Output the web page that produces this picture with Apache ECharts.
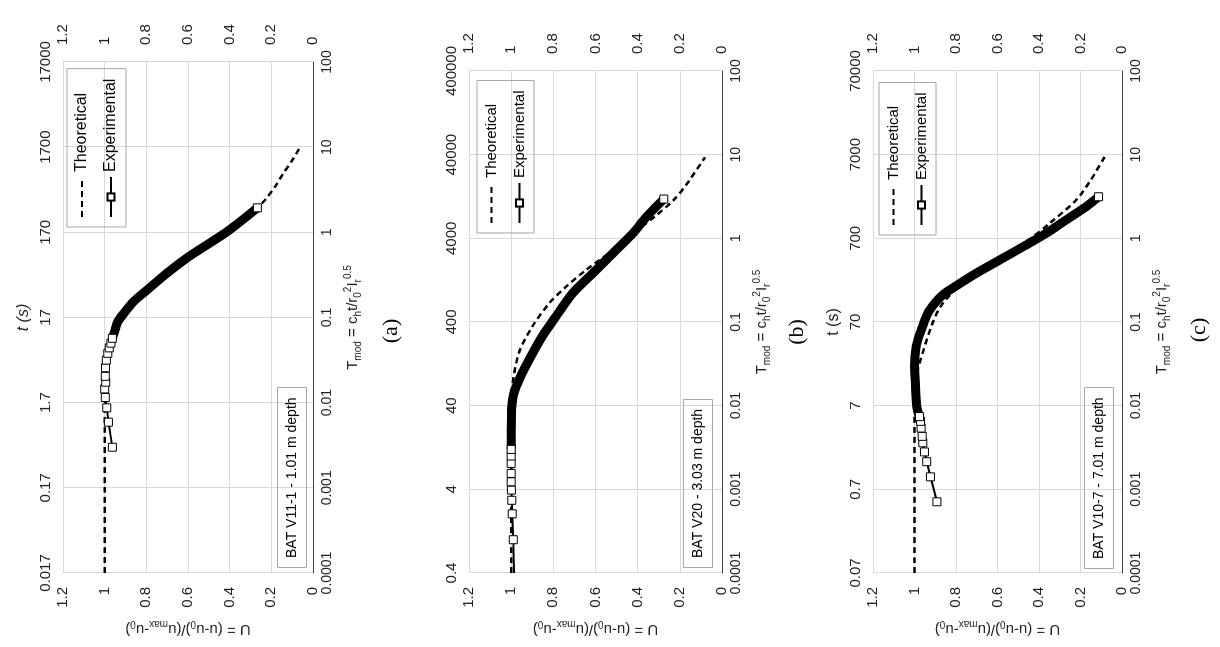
<!DOCTYPE html>
<html>
<head>
<meta charset="utf-8">
<script src="https://cdn.jsdelivr.net/npm/echarts@6/dist/echarts.min.js"></script>
<style>
    html, body {
        margin: 0;
        padding: 0;
        width: 1220px;
        height: 647px;
        overflow: hidden;
        background: #fff;
    }
    /* the figure is drawn in portrait and turned a quarter turn */
    #main {
        position: absolute;
        left: 0;
        top: 0;
        width: 647px;
        height: 1220px;
        transform-origin: 0 0;
        transform: translateY(647px) rotate(-90deg);
    }
</style>
</head>
<body>
<div id="main"></div>
<script>
    // tick labels
    var tmodLabels = ['0.0001', '0.001', '0.01', '0.1', '1', '10', '100'];
    var tLabelsA = ['0.017', '0.17', '1.7', '17', '170', '1700', '17000'];
    var tLabelsB = ['0.4', '4', '40', '400', '4000', '40000', '400000'];
    var tLabelsC = ['0.07', '0.7', '7', '70', '700', '7000', '70000'];

    var depthA = 'BAT V11-1 - 1.01 m depth';
    var depthB = 'BAT V20 - 3.03 m depth';
    var depthC = 'BAT V10-7 - 7.01 m depth';

    // [Tmod, U]
    var theoA = [[0.0001, 1.0], [0.001, 1.0], [0.005, 1.0], [0.01, 0.998], [0.025, 0.992], [0.05, 0.968],
        [0.085, 0.94], [0.112, 0.908], [0.212, 0.795], [0.333, 0.70], [0.50, 0.605], [0.716, 0.508],
        [1.02, 0.412], [1.35, 0.347], [1.95, 0.267], [2.4, 0.230], [3.5, 0.18], [4.9, 0.143],
        [7.0, 0.10], [10, 0.062]];
    var expLeadA = [];
    var expSparseA = [[0.0030, 0.963], [0.0059, 0.982], [0.0087, 0.990], [0.0115, 0.997], [0.0145, 1.0],
        [0.0174, 0.995], [0.0204, 0.997], [0.0257, 0.996], [0.0316, 0.992], [0.038, 0.985],
        [0.044, 0.978], [0.050, 0.970], [0.057, 0.963]];
    var expDenseA = [[0.065, 0.955], [0.086, 0.94], [0.112, 0.908], [0.155, 0.86], [0.212, 0.795],
        [0.333, 0.70], [0.50, 0.605], [0.716, 0.508], [1.02, 0.412], [1.35, 0.347], [1.94, 0.267]];

    var theoB = [[0.0001, 1.0], [0.001, 1.0], [0.01, 1.0], [0.017, 0.995], [0.043, 0.963], [0.088, 0.90],
        [0.167, 0.82], [0.264, 0.74], [0.418, 0.645], [1.0, 0.44], [1.38, 0.38], [1.81, 0.32],
        [2.86, 0.23], [4.54, 0.165], [9.3, 0.081]];
    var expLeadB = [[0.0001, 0.987]];
    var expSparseB = [[0.00025, 0.99], [0.00051, 0.995], [0.00074, 0.997], [0.00098, 0.999],
        [0.00123, 1.0], [0.00155, 1.0], [0.00204, 1.0], [0.0025, 1.0], [0.0030, 1.0]];
    var expDenseB = [[0.0051, 1.0], [0.0089, 0.998], [0.0141, 0.987], [0.0224, 0.955], [0.0385, 0.907],
        [0.0676, 0.852], [0.116, 0.788], [0.22, 0.709], [0.382, 0.613], [0.661, 0.518],
        [1.15, 0.422], [1.81, 0.358], [2.95, 0.276]];

    var theoC = [[0.0001, 1.0], [0.001, 1.0], [0.01, 1.0], [0.02, 0.995], [0.032, 0.976], [0.098, 0.912],
        [0.167, 0.864], [0.316, 0.751], [0.55, 0.606], [1.0, 0.44], [1.51, 0.349], [2.87, 0.221],
        [5.0, 0.15], [9.4, 0.084]];
    var expLeadC = [];
    var expSparseC = [[0.00071, 0.892], [0.00141, 0.923], [0.00214, 0.941], [0.0028, 0.952],
        [0.0036, 0.960], [0.0043, 0.963], [0.0054, 0.968], [0.0065, 0.971], [0.0074, 0.976]];
    var expDenseC = [[0.0098, 0.989], [0.017, 0.995], [0.0295, 1.0], [0.0507, 0.992], [0.080, 0.968],
        [0.127, 0.936], [0.170, 0.90], [0.215, 0.86], [0.27, 0.80], [0.382, 0.703], [0.55, 0.59],
        [0.832, 0.462], [1.15, 0.365], [1.66, 0.269], [2.39, 0.173], [3.14, 0.113]];

    // layout, in the unrotated frame (x along Tmod, y along U)
    var panels = [
        { tag: '(a)', tLabels: tLabelsA, tName: 't (s)', tItalic: true, depth: depthA,
          theo: theoA, lead: expLeadA, sparse: expSparseA, dense: expDenseA,
          grid: [74, 63, 511, 250], legend: [420, 67], legendFont: 16, box: [79, 277], tagPos: [316, 391] },
        { tag: '(b)', tLabels: tLabelsB, tName: '', tItalic: false, depth: depthB,
          theo: theoB, lead: expLeadB, sparse: expSparseB, dense: expDenseB,
          grid: [74, 469, 502, 253], legend: [414, 477], legendFont: 15, box: [79, 683], tagPos: [315, 797] },
        { tag: '(c)', tLabels: tLabelsC, tName: 't (s)', tItalic: false, depth: depthC,
          theo: theoC, lead: expLeadC, sparse: expSparseC, dense: expDenseC,
          grid: [74, 873, 502, 249], legend: [412, 879], legendFont: 15, box: [78, 1084], tagPos: [317, 1199] }
    ];

    var font = '"Liberation Sans", Arial, sans-serif';
    var gridColor = '#d9d9d9';
    var richSub = {
        s: { fontSize: 10, lineHeight: 10, verticalAlign: 'bottom' },
        p: { fontSize: 10, lineHeight: 10, verticalAlign: 'top' }
    };

    function logIndex(v) {
        return Math.round(Math.log(v) / Math.LN10) + 4;
    }

    function expData(p) {
        var d = [];
        p.lead.forEach(function (v) { d.push({ value: v, symbol: 'none' }); });
        p.sparse.forEach(function (v) { d.push({ value: v }); });
        p.dense.forEach(function (v, i) {
            d.push(i === p.dense.length - 1 ? { value: v } : { value: v, symbol: 'none' });
        });
        return d;
    }

    var grid = [], xAxis = [], yAxis = [], series = [], legend = [], title = [], graphic = [];

    panels.forEach(function (p, i) {
        grid.push({ left: p.grid[0], top: p.grid[1], width: p.grid[2], height: p.grid[3] });

        xAxis.push({
            type: 'log', gridIndex: i, min: 0.0001, max: 100, position: 'bottom',
            axisLine: { show: true, onZero: false, lineStyle: { color: '#404040', width: 1 } },
            axisTick: { show: false },
            splitLine: { show: true, lineStyle: { color: gridColor, width: 1 } },
            axisLabel: { margin: 7, fontSize: 14, color: '#222', fontFamily: font,
                formatter: function (v) { return tmodLabels[logIndex(v)]; } },
            name: 'T{s|mod} = c{s|h}t/r{s|0}{p|2}I{s|r}{p|0.5}',
            nameLocation: 'middle', nameGap: 30,
            nameTextStyle: { fontSize: 15, lineHeight: 20, color: '#222', fontFamily: font, rich: richSub }
        });
        xAxis.push({
            type: 'log', gridIndex: i, min: 0.0001, max: 100, position: 'top',
            axisLine: { show: false }, axisTick: { show: false }, splitLine: { show: false },
            axisLabel: { margin: 10, fontSize: 15, color: '#222', fontFamily: font,
                formatter: function (v) { return p.tLabels[logIndex(v)]; } },
            name: p.tName, nameLocation: 'middle', nameGap: 31,
            nameTextStyle: { fontSize: 16, color: '#222', fontFamily: font,
                fontStyle: p.tItalic ? 'italic' : 'normal' }
        });

        yAxis.push({
            type: 'value', gridIndex: i, min: 0, max: 1.2, interval: 0.2, position: 'left',
            axisLine: { show: false }, axisTick: { show: false },
            splitLine: { show: true, lineStyle: { color: gridColor, width: 1 } },
            axisLabel: { margin: 14, fontSize: 15, color: '#222', fontFamily: font },
            name: 'U = (u-u{s|0})/(u{s|max}-u{s|0})',
            nameLocation: 'middle', nameGap: 36,
            nameTextStyle: { fontSize: 15, lineHeight: 20, color: '#222', fontFamily: font, rich: richSub }
        });
        yAxis.push({
            type: 'value', gridIndex: i, min: 0, max: 1.2, interval: 0.2, position: 'right',
            axisLine: { show: false }, axisTick: { show: false }, splitLine: { show: false },
            axisLabel: { margin: 17, fontSize: 15, color: '#222', fontFamily: font }
        });

        series.push({
            name: 'Theoretical', type: 'line', xAxisIndex: 2 * i, yAxisIndex: 2 * i,
            data: p.theo, symbol: 'none', smooth: 0.3, z: 2,
            lineStyle: { color: '#000', width: 2.5, type: [6, 4] },
            itemStyle: { color: '#000' }
        });
        series.push({
            name: 'band', type: 'line', xAxisIndex: 2 * i, yAxisIndex: 2 * i,
            data: [p.sparse[p.sparse.length - 1]].concat(p.dense), symbol: 'none', smooth: 0.3, z: 3,
            silent: true,
            lineStyle: { color: '#000', width: 9, cap: 'butt' }
        });
        series.push({
            name: 'Experimental', type: 'line', xAxisIndex: 2 * i, yAxisIndex: 2 * i,
            data: expData(p), symbol: 'rect', symbolSize: 8, showAllSymbol: true, z: 4,
            lineStyle: { color: '#000', width: 2 },
            itemStyle: { color: '#fff', borderColor: '#000', borderWidth: 1 }
        });

        legend.push({
            data: [{ name: 'Theoretical', itemStyle: { opacity: 0 } }, 'Experimental'],
            orient: 'vertical', left: p.legend[0], top: p.legend[1], selectedMode: false,
            itemWidth: 40, itemHeight: 9, itemGap: 13, padding: [7, 10, 7, 9],
            borderColor: '#a6a6a6', borderWidth: 1,
            textStyle: { fontSize: p.legendFont, color: '#000', fontFamily: font }
        });

        title.push({
            text: p.depth, left: p.box[0], top: p.box[1], padding: [8, 10],
            borderColor: '#a6a6a6', borderWidth: 1,
            textStyle: { fontSize: 14, fontWeight: 'normal', color: '#000', fontFamily: font }
        });

        graphic.push({
            type: 'text', x: p.tagPos[0], y: p.tagPos[1],
            style: { text: p.tag, fontSize: 22, fontFamily: '"Liberation Serif", serif', fill: '#000',
                align: 'center', verticalAlign: 'middle' }
        });
    });

    var chart = echarts.init(document.getElementById('main'), null, { renderer: 'canvas' });
    chart.setOption({
        animation: false,
        backgroundColor: '#fff',
        textStyle: { fontFamily: font },
        grid: grid,
        xAxis: xAxis,
        yAxis: yAxis,
        legend: legend,
        title: title,
        graphic: graphic,
        series: series
    });
</script>
</body>
</html>
